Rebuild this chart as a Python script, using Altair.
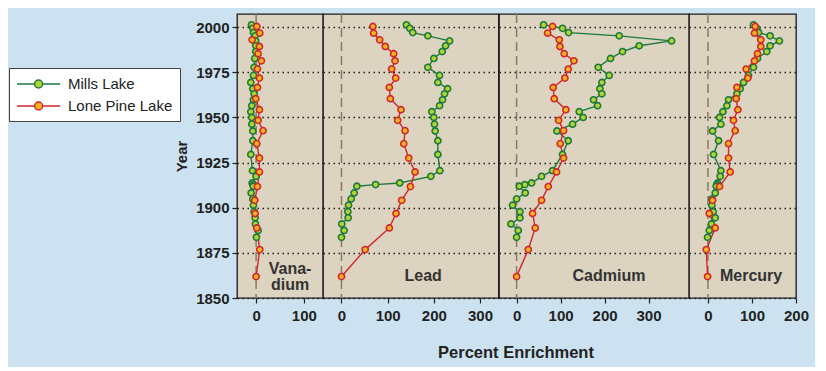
import altair as alt
import pandas as pd

# ---------------- data ----------------
lakes = ["Mills Lake", "Lone Pine Lake"]
metals = ["Vanadium", "Lead", "Cadmium", "Mercury"]

mills_years = [2001.3, 1999.4, 1997.0, 1995.2, 1992.4, 1989.7, 1986.5, 1982.7, 1977.8, 1973.3,
               1969.4, 1965.9, 1963.1, 1959.8, 1956.5, 1953.2, 1950.0, 1946.3, 1942.5, 1937.1,
               1929.5, 1920.5, 1917.4, 1913.7, 1912.8, 1911.9, 1908.2, 1904.9, 1901.4, 1897.8,
               1894.4, 1891.0, 1887.4, 1883.6]
lone_years = [2000.4, 1996.7, 1993.0, 1989.3, 1985.3, 1981.4, 1976.8, 1971.8, 1966.6, 1960.4,
              1954.3, 1948.4, 1942.7, 1935.5, 1927.5, 1919.8, 1911.7, 1904.1, 1896.8, 1888.8,
              1876.8, 1861.9]

mills_vanadium = [-9.7, -7.0, -5.6, -2.1, -1.0, -0.7, -0.7, -2.8, -4.2, -5.6, -11.1, -6.9, -4.2,
                  -5.6, -9.0, -11.1, -9.0, -9.0, -6.9, -6.9, -11.1, -7.6, 0.0, -8.3, -5.6, -6.0,
                  -10.4, -6.9, -5.6, -4.2, -2.1, -1.4, 4.2, 0.7]
mills_lead = [140.6, 147.8, 154.3, 187.0, 234.1, 225.4, 218.1, 200.0, 187.0, 212.3, 208.7, 229.7,
              223.2, 218.8, 212.3, 195.7, 200.0, 201.4, 202.9, 208.7, 208.7, 213.0, 193.5, 126.1,
              73.9, 33.3, 27.5, 21.0, 15.2, 13.8, 14.5, 0.7, 5.8, 0.0]
mills_cadmium = [61.4, 104.5, 118.2, 233.3, 352.3, 278.8, 240.9, 213.6, 185.6, 210.6, 193.9, 189.4,
                 193.9, 175.0, 184.1, 142.4, 151.5, 127.3, 91.7, 117.4, 104.5, 81.8, 56.8, 34.1,
                 18.9, 6.1, 19.7, 0.0, -9.1, 7.6, 7.6, -12.9, 3.8, 0.0]
mills_mercury = [103.4, 110.9, 115.0, 141.1, 162.3, 141.1, 133.6, 112.5, 103.4, 92.1, 80.8, 73.2,
                 65.7, 46.8, 43.0, 34.0, 26.4, 29.4, 10.6, 24.2, 12.8, 29.4, 27.9, 22.0, 20.0,
                 18.9, 16.6, 9.1, 9.0, 12.0, 16.6, 8.0, 3.0, -0.8]

lone_vanadium = [1.4, 7.6, -8.3, 6.9, 4.2, 11.1, 2.8, 6.9, 2.8, -0.7, 6.9, 4.2, 14.6, 1.4, 6.9,
                 6.9, 2.8, -2.8, -2.1, 1.4, 7.6, 0.0]
lone_lead = [68.1, 69.6, 82.6, 94.9, 113.0, 115.9, 108.7, 117.4, 103.6, 105.8, 129.0, 121.7, 137.7,
             134.8, 145.7, 159.4, 149.3, 130.4, 118.1, 103.6, 51.4, 0.0]
lone_cadmium = [81.8, 70.5, 97.0, 98.5, 108.3, 130.3, 117.4, 109.8, 83.3, 85.6, 112.1, 95.5, 106.8,
                99.2, 106.8, 90.9, 72.0, 56.8, 36.4, 42.4, 26.5, 0.0]
lone_mercury = [107.2, 105.7, 120.0, 120.0, 112.5, 105.7, 86.8, 90.6, 65.7, 64.2, 67.9, 58.1, 61.9,
                46.8, 46.8, 50.6, 26.4, 10.6, 3.0, 16.6, -3.8, -0.8]

panel_labels = ["Vana-\ndium", "Lead", "Cadmium", "Mercury"]
x_ticks = [[0, 100], [0, 100, 200, 300], [0, 100, 200, 300], [0, 100, 200]]
year_ticks = [1850, 1875, 1900, 1925, 1950, 1975, 2000]

mills = {"Vanadium": mills_vanadium, "Lead": mills_lead, "Cadmium": mills_cadmium, "Mercury": mills_mercury}
lone = {"Vanadium": lone_vanadium, "Lead": lone_lead, "Cadmium": lone_cadmium, "Mercury": lone_mercury}

rows = []
for m in metals:
    for y, v in zip(mills_years, mills[m]):
        rows.append({"metal": m, "lake": "Mills Lake", "year": y, "value": v})
    for y, v in zip(lone_years, lone[m]):
        rows.append({"metal": m, "lake": "Lone Pine Lake", "year": y, "value": v})
df = pd.DataFrame(rows)

# ---------------- layout / style ----------------
x_domains = {"Vanadium": [-40, 140], "Lead": [-40, 340], "Cadmium": [-40, 392], "Mercury": [-43, 200]}
widths = {"Vanadium": 86, "Lead": 175.5, "Cadmium": 190, "Mercury": 107}
label_pos = {"Vanadium": (71, 1865.8), "Lead": (177, 1862), "Cadmium": (210, 1862), "Mercury": (98, 1862)}
Y_DOMAIN = [1850, 2007.3]
H = 284

LINE_COLORS = ["#1c7a3b", "#d3262a"]
FILL_COLORS = ["#b5d335", "#f7b520"]
FONT = "Liberation Sans"
# legend glyph: a short line with a circle on it (unit = sqrt(size)/2 px)
SYMBOL = ("M-1,0L1.2,0M2.2,0A0.5,0.5,0,1,1,1.2,0A0.5,0.5,0,1,1,2.2,0"
          "M2.2,0L4.4,0")

legend = alt.Legend(
    title=None, orient="none", legendX=-228, legendY=54,
    symbolType=SYMBOL, symbolSize=256, symbolStrokeWidth=1.5,
    labelFont=FONT, labelFontSize=15, labelColor="#222", labelFontWeight="normal",
    fillColor="white", strokeColor="#444", padding=7, rowPadding=5, labelOffset=34,
)
stroke_scale = alt.Scale(domain=lakes, range=LINE_COLORS)
fill_scale = alt.Scale(domain=lakes, range=FILL_COLORS)


def panel(i, metal):
    first = i == 0
    xscale = alt.Scale(domain=x_domains[metal], nice=False, zero=False)
    yscale = alt.Scale(domain=Y_DOMAIN, nice=False, zero=False)
    xaxis = alt.Axis(
        values=x_ticks[i], grid=False, domain=False, labelFlush=False, labelOverlap=False,
        title="Percent Enrichment" if metal == "Lead" else None,
        titleX=192.5, titleY=46, titleAlign="center", titleBaseline="top",
        titleFont=FONT, titleFontSize=16.5, titleFontWeight="bold", titleColor="#222",
    )
    if first:
        yaxis = alt.Axis(values=year_ticks, format="d", grid=True, domain=False, title="Year",
                         titleFont=FONT, titleFontSize=15, titleFontWeight="bold", titleColor="#222",
                         titlePadding=6)
    else:
        yaxis = alt.Axis(values=year_ticks, grid=True, labels=False, ticks=False, domain=False, title=None)

    X = alt.X("value:Q", scale=xscale, axis=xaxis)
    Y = alt.Y("year:Q", scale=yscale, axis=yaxis)

    base = alt.Chart(df).transform_filter(alt.datum.metal == metal)
    zero = alt.Chart(df).transform_filter(alt.datum.metal == metal).transform_aggregate(
        n="count()").mark_rule(color="#8a7b60", strokeWidth=1.5, strokeDash=[9, 5]).encode(
        x=alt.datum(0, scale=xscale, axis=xaxis, type="quantitative"),
        y=alt.value(0), y2=alt.value(H))
    lines = base.mark_line(strokeWidth=1.4).encode(
        x=X, y=Y,
        stroke=alt.Stroke("lake:N", scale=stroke_scale, legend=legend),
        detail="lake:N",
        order=alt.Order("year:Q"),
    )
    pts = base.mark_point(size=38, filled=False, strokeWidth=1.6, opacity=1).encode(
        x=X, y=Y,
        stroke=alt.Stroke("lake:N", scale=stroke_scale, legend=legend),
        fill=alt.Fill("lake:N", scale=fill_scale, legend=legend),
    )
    lx, ly = label_pos[metal]
    txt = alt.Chart(pd.DataFrame({"t": [panel_labels[i]]})).mark_text(
        font=FONT, fontSize=16, fontWeight="bold", color="#333", align="center",
        baseline="middle", lineBreak="\n", lineHeight=16).encode(
        x=alt.datum(lx, scale=xscale, axis=xaxis, type="quantitative"),
        y=alt.datum(ly, scale=yscale, axis=yaxis, type="quantitative"),
        text="t:N")
    return alt.layer(zero, lines, pts, txt).properties(width=widths[metal], height=H)


chart = alt.hconcat(*[panel(i, m) for i, m in enumerate(metals)], spacing=0, bounds="flush").configure(
    background="#cde2f1", padding={"left": 0, "top": 4, "right": 5, "bottom": 5}
).configure_view(fill="#dcd3c0", stroke="#1a1a1a", strokeWidth=1.3).configure_axis(
    labelFont=FONT, labelFontSize=15, labelFontWeight="bold", labelColor="#222",
    tickColor="#222", tickSize=5, tickWidth=1.2, labelPadding=3,
    gridColor="#222", gridDash=[1.5, 3.5], gridWidth=1.4, gridOpacity=1,
).configure_axisX(labelPadding=5)

chart.save("out.html", embed_options={"renderer": "svg", "actions": False})
